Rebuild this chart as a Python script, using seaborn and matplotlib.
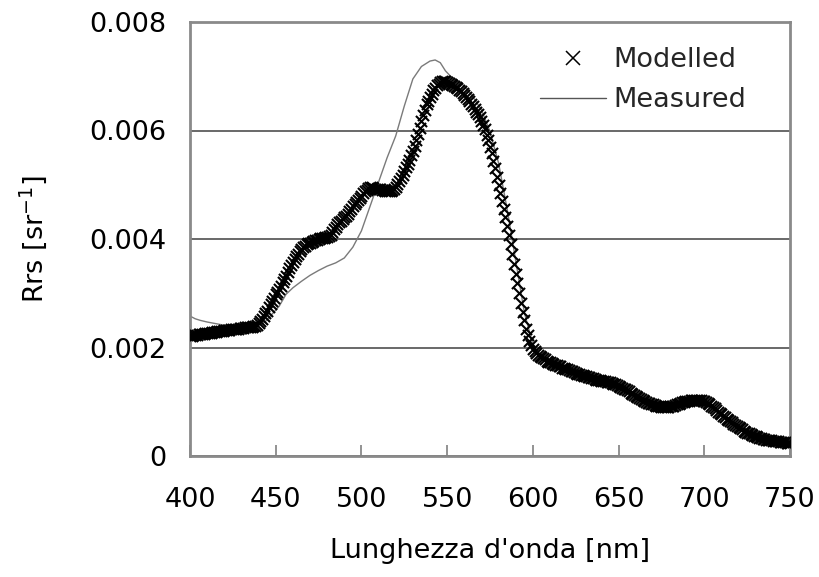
import numpy as np
import pandas as pd
import seaborn as sns
import matplotlib
matplotlib.use("Agg")
import matplotlib.pyplot as plt
from matplotlib.lines import Line2D

# ---- data (Rrs in sr^-1 x 1e-3) ----
wl_modelled = list(range(400, 751, 1))
rrs_modelled_e3 = [
    2.22, 2.22, 2.23, 2.23, 2.23, 2.24, 2.24, 2.25, 2.25, 2.26,  # 400
    2.27, 2.27, 2.27, 2.28, 2.28, 2.29, 2.30, 2.30, 2.31, 2.31,  # 410
    2.32, 2.32, 2.33, 2.33, 2.34, 2.34, 2.35, 2.35, 2.35, 2.36,  # 420
    2.36, 2.36, 2.37, 2.37, 2.37, 2.38, 2.38, 2.39, 2.40, 2.42,  # 430
    2.45, 2.49, 2.53, 2.58, 2.63, 2.68, 2.74, 2.80, 2.86, 2.92,  # 440
    2.98, 3.03, 3.08, 3.14, 3.20, 3.26, 3.32, 3.39, 3.46, 3.52,  # 450
    3.58, 3.63, 3.68, 3.73, 3.78, 3.82, 3.86, 3.88, 3.90, 3.92,  # 460
    3.93, 3.95, 3.96, 3.98, 3.99, 4.00, 4.01, 4.02, 4.02, 4.03,  # 470
    4.03, 4.05, 4.08, 4.13, 4.18, 4.23, 4.27, 4.31, 4.34, 4.37,  # 480
    4.40, 4.43, 4.47, 4.51, 4.55, 4.60, 4.64, 4.68, 4.72, 4.76,  # 490
    4.80, 4.84, 4.88, 4.91, 4.94, 4.95, 4.95, 4.94, 4.93, 4.93,  # 500
    4.92, 4.92, 4.91, 4.90, 4.89, 4.88, 4.88, 4.89, 4.90, 4.93,  # 510
    4.96, 5.01, 5.06, 5.12, 5.18, 5.25, 5.32, 5.39, 5.46, 5.54,  # 520
    5.62, 5.72, 5.82, 5.93, 6.05, 6.17, 6.28, 6.38, 6.48, 6.55,  # 530
    6.62, 6.68, 6.74, 6.79, 6.83, 6.86, 6.89, 6.91, 6.92, 6.91,  # 540
    6.90, 6.88, 6.86, 6.84, 6.82, 6.80, 6.78, 6.75, 6.72, 6.69,  # 550
    6.66, 6.62, 6.58, 6.54, 6.49, 6.45, 6.40, 6.35, 6.30, 6.24,  # 560
    6.18, 6.10, 6.02, 5.92, 5.82, 5.70, 5.58, 5.44, 5.30, 5.15,  # 570
    5.00, 4.85, 4.70, 4.55, 4.40, 4.24, 4.08, 3.90, 3.72, 3.54,  # 580
    3.35, 3.18, 3.00, 2.82, 2.65, 2.50, 2.35, 2.23, 2.12, 2.04,  # 590
    1.98, 1.94, 1.90, 1.87, 1.84, 1.82, 1.80, 1.78, 1.76, 1.74,  # 600
    1.73, 1.71, 1.70, 1.68, 1.67, 1.66, 1.65, 1.63, 1.62, 1.61,  # 610
    1.60, 1.58, 1.57, 1.56, 1.55, 1.53, 1.52, 1.51, 1.50, 1.49,  # 620
    1.48, 1.47, 1.46, 1.45, 1.44, 1.43, 1.42, 1.41, 1.41, 1.40,  # 630
    1.39, 1.38, 1.38, 1.37, 1.37, 1.36, 1.35, 1.33, 1.32, 1.30,  # 640
    1.29, 1.27, 1.26, 1.24, 1.23, 1.21, 1.19, 1.17, 1.15, 1.13,  # 650
    1.11, 1.09, 1.07, 1.05, 1.03, 1.01, 1.00, 0.98, 0.97, 0.96,  # 660
    0.95, 0.94, 0.93, 0.92, 0.92, 0.91, 0.91, 0.91, 0.91, 0.91,  # 670
    0.92, 0.92, 0.93, 0.94, 0.95, 0.96, 0.98, 0.99, 1.00, 1.01,  # 680
    1.02, 1.02, 1.03, 1.03, 1.04, 1.04, 1.04, 1.04, 1.03, 1.02,  # 690
    1.01, 0.99, 0.98, 0.95, 0.93, 0.90, 0.88, 0.85, 0.82, 0.79,  # 700
    0.77, 0.74, 0.72, 0.69, 0.67, 0.64, 0.62, 0.59, 0.57, 0.55,  # 710
    0.53, 0.51, 0.49, 0.47, 0.45, 0.43, 0.42, 0.40, 0.39, 0.37,  # 720
    0.36, 0.35, 0.34, 0.33, 0.32, 0.31, 0.30, 0.30, 0.29, 0.29,  # 730
    0.28, 0.28, 0.27, 0.27, 0.26, 0.26, 0.25, 0.25, 0.24, 0.24,  # 740
    0.24,                                                        # 750
]

wl_measured = [
    400, 403, 406, 410, 415, 420, 425, 430, 435, 440, 444, 448, 452, 456,
    460, 465, 470, 475, 480, 485, 490, 495, 500, 505, 510, 515, 520, 525,
    530, 535, 540, 543, 546, 549, 552, 556, 560, 565, 570, 575, 580, 585,
    590, 595, 600, 605, 610, 620, 630, 640, 650, 660, 670, 680, 690, 700,
    710, 720, 730, 740, 745, 750,
]
rrs_measured_e3 = [
    2.58, 2.53, 2.50, 2.47, 2.44, 2.41, 2.39, 2.38, 2.38, 2.40, 2.48, 2.62, 2.76, 2.98,
    3.10, 3.22, 3.33, 3.42, 3.50, 3.56, 3.65, 3.85, 4.15, 4.60, 5.05, 5.50, 5.90, 6.45,
    6.95, 7.18, 7.28, 7.30, 7.25, 7.10, 7.00, 6.92, 6.82, 6.62, 6.38, 5.98, 5.40, 4.55,
    3.60, 2.65, 2.05, 1.85, 1.74, 1.58, 1.47, 1.38, 1.28, 1.10, 0.94, 0.90, 1.00, 1.00,
    0.76, 0.50, 0.33, 0.22, 0.17, 0.15,
]

x_ticks = [400, 450, 500, 550, 600, 650, 700, 750]
y_ticks = [0, 0.002, 0.004, 0.006, 0.008]
y_tick_labels = ["0", "0.002", "0.004", "0.006", "0.008"]
series_labels = ["Modelled", "Measured"]

df_mod = pd.DataFrame({"wl": wl_modelled, "rrs": np.array(rrs_modelled_e3) * 1e-3})
df_meas = pd.DataFrame({"wl": wl_measured, "rrs": np.array(rrs_measured_e3) * 1e-3})

# ---- style ----
sns.set_theme(style="white")
plt.rcParams["font.family"] = ["DejaVu Sans"]
FS = 19.5

fig = plt.figure(figsize=(8.19, 5.77), dpi=100)
ax = fig.add_axes([190 / 819, 1 - 456 / 577, 600 / 819, 434 / 577])

sns.lineplot(data=df_meas, x="wl", y="rrs", ax=ax, color="#7a7a7a",
             linewidth=1.0, zorder=2, legend=False)
sns.scatterplot(data=df_mod, x="wl", y="rrs", ax=ax, marker="x", color="black",
                s=64, linewidth=1.5, zorder=3, legend=False)

ax.set_xlim(400, 750)
ax.set_ylim(0, 0.008)
ax.set_xticks(x_ticks)
ax.set_xticklabels([str(v) for v in x_ticks], fontsize=FS)
ax.set_yticks(y_ticks)
ax.set_yticklabels(y_tick_labels, fontsize=FS)

ax.tick_params(axis="x", direction="in", length=8, width=1.2, color="#808080",
               pad=22, bottom=True, labelcolor="black")
ax.tick_params(axis="y", length=0, pad=17, labelcolor="black")

ax.yaxis.grid(True, color="#404040", linewidth=1.1)
ax.xaxis.grid(False)
ax.set_axisbelow(True)
for sp in ax.spines.values():
    sp.set_color("#8a8a8a")
    sp.set_linewidth(2.0)
    sp.set_visible(True)

ax.set_xlabel("Lunghezza d'onda [nm]", fontsize=FS, color="black")
ax.set_ylabel("Rrs [sr$^{-1}$]", fontsize=FS, color="black")
ax.xaxis.set_label_coords(0.5, -0.19)
ax.yaxis.set_label_coords(-0.235, 0.5)

handles = [
    Line2D([], [], marker="x", linestyle="none", color="black", markersize=9.5, mew=1.1),
    Line2D([], [], color="#555555", linewidth=1.0),
]
ax.legend(handles, series_labels, loc="upper left", bbox_to_anchor=(0.583, 0.942),
          frameon=False, fontsize=FS, borderpad=0, borderaxespad=0,
          handlelength=2.45, handletextpad=0.26, labelspacing=0.52)

fig.savefig("out.png", dpi=100)
